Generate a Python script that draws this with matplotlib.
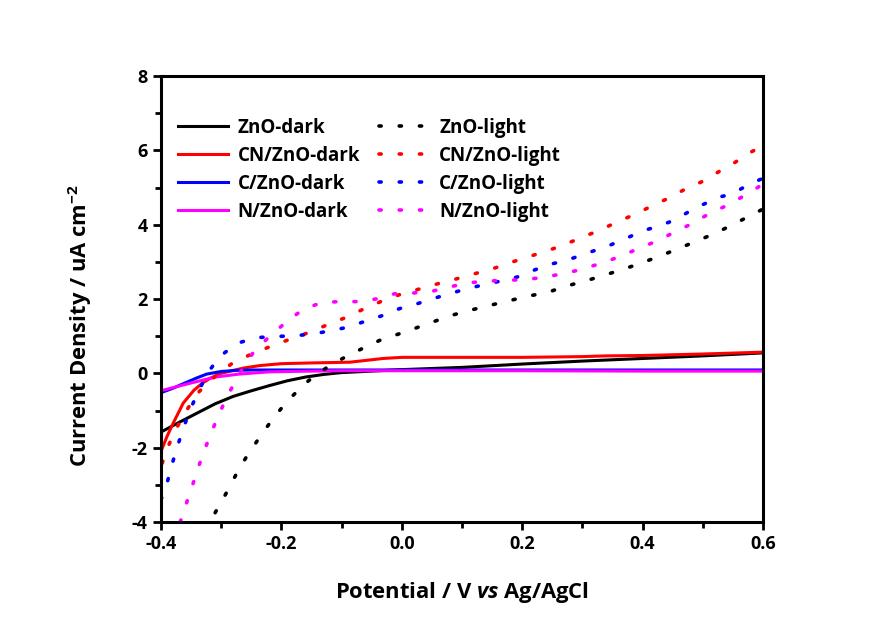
import matplotlib.pyplot as plt

plt.rcParams['font.family'] = 'Open Sans'
plt.rcParams['font.weight'] = 'bold'
plt.rcParams['axes.labelweight'] = 'bold'
plt.rcParams['mathtext.fontset'] = 'custom'
plt.rcParams['mathtext.rm'] = 'Open Sans:bold'
plt.rcParams['mathtext.it'] = 'Open Sans:italic:bold'
plt.rcParams['mathtext.bf'] = 'Open Sans:bold'

# dark curves (solid)
zno_dark_v = [-0.4, -0.37, -0.34, -0.31, -0.28, -0.25, -0.22, -0.19, -0.16, -0.13, -0.1, -0.05, 0.0, 0.1, 0.2, 0.3, 0.4, 0.5, 0.6]
zno_dark_j = [-1.58, -1.32, -1.07, -0.82, -0.62, -0.47, -0.33, -0.2, -0.1, -0.03, 0.02, 0.06, 0.1, 0.16, 0.25, 0.33, 0.4, 0.47, 0.55]

cn_dark_v = [-0.4, -0.39, -0.38, -0.363, -0.345, -0.33, -0.318, -0.3, -0.28, -0.26, -0.235, -0.2, -0.15, -0.086, -0.031, 0.0, 0.113, 0.2, 0.3, 0.34, 0.4, 0.5, 0.6]
cn_dark_j = [-2.1, -1.7, -1.35, -0.8, -0.45, -0.25, -0.13, 0.0, 0.08, 0.15, 0.21, 0.26, 0.28, 0.3, 0.4, 0.43, 0.43, 0.43, 0.45, 0.47, 0.48, 0.52, 0.57]

c_dark_v = [-0.4, -0.38, -0.363, -0.34, -0.324, -0.3, -0.274, -0.25, -0.2, -0.1, 0.0, 0.2, 0.4, 0.6]
c_dark_j = [-0.52, -0.4, -0.28, -0.12, -0.02, 0.05, 0.08, 0.09, 0.09, 0.09, 0.09, 0.09, 0.09, 0.09]

n_dark_v = [-0.4, -0.36, -0.31, -0.27, -0.22, -0.15, -0.1, 0.0, 0.2, 0.4, 0.6]
n_dark_j = [-0.47, -0.3, -0.1, -0.02, 0.04, 0.06, 0.07, 0.07, 0.07, 0.06, 0.06]

# light curves (dotted)
zno_light_v = [-0.31, -0.288, -0.272, -0.254, -0.233, -0.211, -0.185, -0.155, -0.125, -0.094, -0.064, -0.035, -0.003,
               0.027, 0.058, 0.087, 0.119, 0.149, 0.18, 0.21, 0.241, 0.271, 0.302, 0.332, 0.362, 0.393, 0.423, 0.454,
               0.484, 0.515, 0.545, 0.576, 0.6]
zno_light_j = [-3.75, -3.12, -2.62, -2.14, -1.65, -1.15, -0.66, -0.2, 0.15, 0.44, 0.68, 0.9, 1.07,
               1.24, 1.42, 1.58, 1.72, 1.84, 1.96, 2.08, 2.17, 2.34, 2.47, 2.62, 2.77, 2.94, 3.12, 3.32,
               3.52, 3.73, 3.96, 4.22, 4.42]

cn_light_v = [-0.398, -0.388, -0.374, -0.357, -0.336, -0.31, -0.28, -0.248, -0.217, -0.187, -0.156, -0.126, -0.095,
              -0.066, -0.035, -0.005, 0.025, 0.055, 0.086, 0.116, 0.147, 0.176, 0.206, 0.232, 0.262, 0.292, 0.33,
              0.36, 0.389, 0.416, 0.444, 0.47, 0.499, 0.526, 0.552, 0.577, 0.6]
cn_light_j = [-2.42, -1.96, -1.47, -0.98, -0.48, -0.08, 0.29, 0.53, 0.73, 0.91, 1.09, 1.29, 1.49,
              1.71, 1.93, 2.11, 2.25, 2.39, 2.52, 2.66, 2.79, 2.96, 3.11, 3.25, 3.41, 3.61, 3.86,
              4.09, 4.29, 4.51, 4.72, 4.95, 5.16, 5.42, 5.66, 5.93, 6.12]

c_light_v = [-0.4, -0.39, -0.382, -0.373, -0.363, -0.352, -0.338, -0.323, -0.302, -0.273, -0.242, -0.212, -0.181,
             -0.151, -0.12, -0.09, -0.061, -0.031, -0.004, 0.025, 0.054, 0.083, 0.111, 0.136, 0.174, 0.196, 0.217,
             0.245, 0.272, 0.3, 0.325, 0.346, 0.367, 0.401, 0.425, 0.454, 0.48, 0.5, 0.529, 0.548, 0.573, 0.6]
c_light_j = [-3.4, -2.96, -2.47, -1.98, -1.49, -0.99, -0.5, 0.0, 0.46, 0.81, 0.96, 0.99, 1.01,
             1.05, 1.14, 1.24, 1.4, 1.56, 1.74, 1.87, 2.02, 2.16, 2.29, 2.38, 2.52, 2.61, 2.76,
             2.93, 3.03, 3.19, 3.33, 3.45, 3.59, 3.84, 3.95, 4.13, 4.38, 4.54, 4.75, 4.82, 5.05, 5.25]

n_light_v = [-0.368, -0.356, -0.346, -0.336, -0.325, -0.313, -0.3, -0.285, -0.269, -0.248, -0.222, -0.192, -0.164,
             -0.134, -0.104, -0.074, -0.043, -0.012, 0.018, 0.048, 0.078, 0.109, 0.138, 0.169, 0.2, 0.231, 0.261,
             0.292, 0.331, 0.362, 0.392, 0.422, 0.452, 0.481, 0.51, 0.539, 0.569, 0.598]
n_light_j = [-4.0, -3.41, -2.93, -2.44, -1.95, -1.46, -0.97, -0.47, 0.01, 0.53, 0.96, 1.38, 1.72,
             1.9, 1.93, 1.93, 2.0, 2.14, 2.16, 2.2, 2.32, 2.43, 2.48, 2.5, 2.52, 2.57, 2.66,
             2.77, 2.96, 3.14, 3.35, 3.55, 3.79, 4.02, 4.29, 4.51, 4.78, 5.07]

fig = plt.figure(figsize=(8.72, 6.19), dpi=100)
ax = fig.add_axes([0.1846, 0.1567, 0.6904, 0.7205])

dot = dict(linestyle=(0, (0.6, 5.0)), linewidth=2.6, dash_capstyle='round')
lw = 2.2

# order of plotting so the legend reads column by column
ax.plot(zno_dark_v, zno_dark_j, color='black', lw=lw, label='ZnO-dark')
ax.plot(cn_dark_v, cn_dark_j, color='red', lw=lw, label='CN/ZnO-dark')
ax.plot(c_dark_v, c_dark_j, color='blue', lw=lw, label='C/ZnO-dark')
ax.plot(n_dark_v, n_dark_j, color='magenta', lw=lw, label='N/ZnO-dark')
ax.plot(zno_light_v, zno_light_j, color='black', label='ZnO-light', **dot)
ax.plot(cn_light_v, cn_light_j, color='red', label='CN/ZnO-light', **dot)
ax.plot(c_light_v, c_light_j, color='blue', label='C/ZnO-light', **dot)
ax.plot(n_light_v, n_light_j, color='magenta', label='N/ZnO-light', **dot)

ax.set_xlim(-0.4, 0.6)
ax.set_ylim(-4, 8)
ax.set_xticks([-0.4, -0.2, 0.0, 0.2, 0.4, 0.6])
ax.set_xticklabels(['-0.4', '-0.2', '0.0', '0.2', '0.4', '0.6'])
ax.set_yticks([-4, -2, 0, 2, 4, 6, 8])
ax.set_yticklabels(['-4', '-2', '0', '2', '4', '6', '8'])
ax.set_xticks([-0.3, -0.1, 0.1, 0.3, 0.5], minor=True)
ax.set_yticks([-3, -1, 1, 3, 5, 7], minor=True)
ax.tick_params(which='both', direction='out', width=2, labelsize=13, top=False, right=False)
ax.tick_params(which='major', length=6)
ax.tick_params(which='minor', length=4)
for s in ax.spines.values():
    s.set_linewidth(2.2)

ax.set_xlabel('Potential / V $\\mathit{vs}$ Ag/AgCl', fontsize=15.8, labelpad=19)
ax.set_ylabel('Current Density / uA cm$^{-2}$', fontsize=15.8)
ax.yaxis.set_label_coords(-0.112, 0.44)

ax.legend(loc='upper left', ncol=2, frameon=False, fontsize=13.5, handlelength=2.7,
          labelspacing=0.43, columnspacing=1.0, handletextpad=0.5, bbox_to_anchor=(0.0, 0.944))

fig.savefig('out.png', dpi=100)
